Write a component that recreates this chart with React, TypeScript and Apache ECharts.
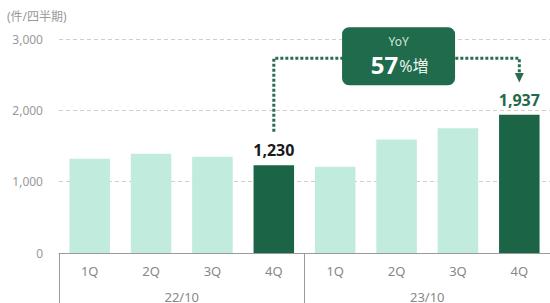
import React, { useEffect, useRef } from "react";
import * as echarts from "echarts";

const categories = ["1Q", "2Q", "3Q", "4Q", "1Q", "2Q", "3Q", "4Q"];
const years = ["22/10", "23/10"];
const values = [1320, 1390, 1350, 1230, 1210, 1590, 1750, 1937];
const highlighted = [false, false, false, true, false, false, false, true];
const labelColors = ["", "", "", "#1a1a1a", "", "", "", "#1f6b4b"];
const yMax = 3000;
const yInterval = 1000;
const unitLabel = "(件/四半期)";
const yoyTitle = "YoY";
const yoyValue = "57";
const yoySuffix = "%増";
const fromIndex = 3;
const toIndex = 7;

const LIGHT = "#c1ebdc";
const DARK = "#1b6445";
const LINE = "#2b6c51";
const FONT = "'Noto Sans', 'Noto Sans CJK JP', sans-serif";

export default function App() {
  const ref = useRef<HTMLDivElement>(null);
  useEffect(() => {
    if (!ref.current) return;
    const chart = echarts.init(ref.current, null, { renderer: "svg" });
    const option: any = {
      animation: false,
      textStyle: { fontFamily: FONT },
      grid: { left: 59, width: 493, top: 39, height: 214.5 },
      xAxis: [
        {
          type: "category",
          data: categories,
          axisLine: { lineStyle: { color: "#9a9a9a", width: 1 } },
          axisTick: { show: false },
          axisLabel: { color: "#888", fontSize: 13, margin: 11, fontFamily: FONT },
        },
        {
          type: "category",
          data: years,
          position: "bottom",
          axisLine: { show: false },
          axisTick: { show: true, length: 60, inside: false, interval: 0, lineStyle: { color: "#9a9a9a" } },
          axisLabel: { color: "#888", fontSize: 13, margin: 37, fontFamily: FONT },
          splitLine: { show: false },
        },
      ],
      yAxis: {
        type: "value",
        min: 0,
        max: yMax,
        interval: yInterval,
        axisLine: { show: false },
        axisTick: { show: false },
        axisLabel: {
          color: "#999",
          fontSize: 12,
          margin: 16,
          fontFamily: FONT,
          formatter: (v: number) => v.toLocaleString("en-US"),
        },
        splitLine: { lineStyle: { color: "#cfcfcf", type: [4, 3] } },
      },
      series: [
        {
          type: "bar",
          xAxisIndex: 0,
          barWidth: "66%",
          data: values.map((v, i) => ({
            value: v,
            itemStyle: { color: highlighted[i] ? DARK : LIGHT },
            label: {
              show: highlighted[i],
              position: "top",
              distance: 7,
              color: labelColors[i] || "#000",
              fontSize: 16,
              fontWeight: "bold",
              fontFamily: "'Open Sans', 'Noto Sans', sans-serif",
              formatter: (p: any) => Number(p.value).toLocaleString("en-US"),
            },
          })),
        },
      ],
    };
    chart.setOption(option);

    const x1 = chart.convertToPixel({ xAxisIndex: 0 }, fromIndex) as number;
    const x2 = chart.convertToPixel({ xAxisIndex: 0 }, toIndex) as number;
    const yStart = chart.convertToPixel({ yAxisIndex: 0 }, 1700) as number;
    const yTop = chart.convertToPixel({ yAxisIndex: 0 }, 2730) as number;
    const yArrowTop = chart.convertToPixel({ yAxisIndex: 0 }, 2510) as number;
    const yArrowTip = chart.convertToPixel({ yAxisIndex: 0 }, 2390) as number;
    const cx = (x1 + x2) / 2 + 2;
    const boxW = 113;
    const boxH = 58;
    const boxTop = yTop - 31;

    chart.setOption({
      graphic: [
        {
          type: "text",
          left: 7,
          top: 10,
          style: { text: unitLabel, fill: "#999", fontSize: 12, fontFamily: FONT },
        },
        {
          type: "polyline",
          shape: { points: [[x1, yStart], [x1, yTop], [x2, yTop], [x2, yArrowTop]] },
          style: { stroke: LINE, lineWidth: 3, lineDash: [3, 2], fill: null },
          z: 10,
        },
        {
          type: "polygon",
          shape: { points: [[x2 - 4.5, yArrowTop - 1], [x2 + 4.5, yArrowTop - 1], [x2, yArrowTip]] },
          style: { fill: LINE },
          z: 10,
        },
        {
          type: "rect",
          shape: { x: cx - boxW / 2, y: boxTop, width: boxW, height: boxH, r: 7 },
          style: { fill: "#1f6b4b" },
          z: 11,
        },
        {
          type: "text",
          x: cx,
          y: boxTop + 14,
          style: {
            text: yoyTitle,
            fill: "#cfe6da",
            fontSize: 12,
            fontFamily: FONT,
            align: "center",
            verticalAlign: "middle",
          },
          z: 12,
        },
        {
          type: "text",
          x: cx + 1,
          y: boxTop + 37,
          style: {
            text: "{a|" + yoyValue + "}{b|" + yoySuffix + "}",
            align: "center",
            verticalAlign: "middle",
            rich: {
              a: { fill: "#ffffff", fontSize: 24, fontWeight: "bold", fontFamily: "'Open Sans', 'Noto Sans', sans-serif" },
              b: { fill: "#e6f2ec", fontSize: 16, fontFamily: FONT, padding: [3, 0, 0, 1] },
            },
          },
          z: 12,
        },
      ],
    });

    return () => chart.dispose();
  }, []);
  return (
    <div
      ref={ref}
      style={{ position: "fixed", left: 0, top: 0, width: 550, height: 303, background: "#fff" }}
    />
  );
}
